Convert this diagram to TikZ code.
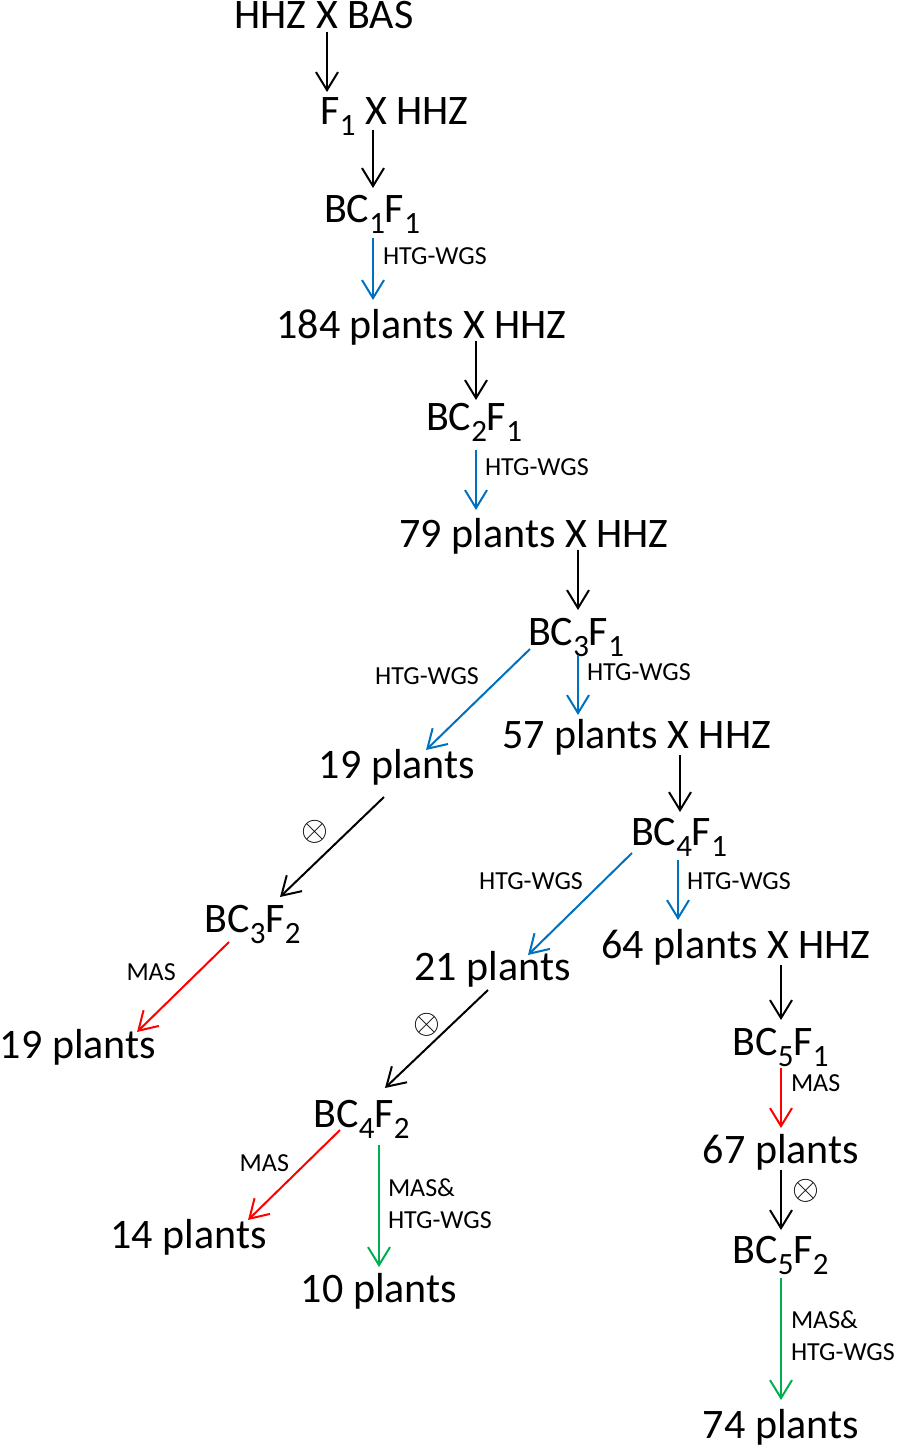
\documentclass[tikz,border=0pt]{standalone}
\usepackage{fontspec}
\setmainfont{Carlito}
\usetikzlibrary{arrows.meta}
\definecolor{htgblue}{RGB}{0,112,192}
\definecolor{masred}{RGB}{255,0,0}
\definecolor{bothgreen}{RGB}{0,176,80}
\newcommand{\subsc}[1]{\raisebox{-5.5pt}{\fontsize{15.5}{16}\selectfont #1}}

\begin{document}
\begin{tikzpicture}[x=0.5pt, y=-0.5pt,
    plant/.style={font=\fontsize{21}{25}\selectfont, anchor=base, inner sep=0pt, outer sep=0pt},
    lab/.style={font=\fontsize{13}{16}\selectfont, text=black, inner sep=0pt, align=left},
    selfing/.style={font=\fontsize{19}{19}\selectfont, text=black, inner sep=0pt},
    arr/.style={line width=1pt, -{Straight Barb[length=9pt,width=11pt]}}]
    \useasboundingbox (0,0) rectangle (896,1446);
    \node[plant] (cross) at (324,28) {HHZ X BAS};
    \node[plant] (fone) at (394.5,124) {F\subsc{1} X HHZ};
    \node[plant] (bc1f1) at (372,222) {BC\subsc{1}F\subsc{1}};
    \node[plant] (p184) at (421.5,338) {184 plants X HHZ};
    \node[plant] (bc2f1) at (474,430) {BC\subsc{2}F\subsc{1}};
    \node[plant] (p79) at (534,547) {79 plants X HHZ};
    \node[plant] (bc3f1) at (576,645) {BC\subsc{3}F\subsc{1}};
    \node[plant] (p19a) at (397,778) {19 plants};
    \node[plant] (p57) at (636.5,748) {57 plants X HHZ};
    \node[plant] (bc4f1) at (679,845) {BC\subsc{4}F\subsc{1}};
    \node[plant] (bc3f2) at (252.5,932) {BC\subsc{3}F\subsc{2}};
    \node[plant] (p21) at (492.5,980) {21 plants};
    \node[plant] (p64) at (736,958) {64 plants X HHZ};
    \node[plant] (p19b) at (78,1058) {19 plants};
    \node[plant] (bc5f1) at (780.5,1055) {BC\subsc{5}F\subsc{1}};
    \node[plant] (bc4f2) at (361.5,1127) {BC\subsc{4}F\subsc{2}};
    \node[plant] (p67) at (781,1163) {67 plants};
    \node[plant] (p14) at (188.5,1248) {14 plants};
    \node[plant] (p10) at (379,1302) {10 plants};
    \node[plant] (bc5f2) at (780.5,1263) {BC\subsc{5}F\subsc{2}};
    \node[plant] (p74) at (781,1438) {74 plants};

    \draw[arr] ([shift={(3,4)}]cross.base) -- ([shift={(-67.5,-32)}]fone.base);
    \draw[arr] ([shift={(-21.5,6)}]fone.base) -- ([shift={(1,-34)}]bc1f1.base);
    \draw[arr, htgblue] ([shift={(1,16)}]bc1f1.base) -- ([shift={(-48.5,-38)}]p184.base) node[lab, pos=0.3, right=4.5pt] {HTG-WGS};
    \draw[arr] ([shift={(54.5,3)}]p184.base) -- ([shift={(2,-30)}]bc2f1.base);
    \draw[arr, htgblue] ([shift={(2,20)}]bc2f1.base) -- ([shift={(-58,-37)}]p79.base) node[lab, pos=0.28, right=4pt] {HTG-WGS};
    \draw[arr] ([shift={(44,3)}]p79.base) -- ([shift={(2,-35)}]bc3f1.base);
    \draw[arr, htgblue] ([shift={(-46,4)}]bc3f1.base) -- ([shift={(29,-28)}]p19a.base) node[lab, pos=0.27, left=11pt] {HTG-WGS};
    \draw[arr, htgblue] ([shift={(2,10)}]bc3f1.base) -- ([shift={(-58.5,-33)}]p57.base) node[lab, pos=0.28, right=4pt] {HTG-WGS};
    \draw[arr] ([shift={(43.5,7)}]p57.base) -- ([shift={(1,-33)}]bc4f1.base);
    \draw[arr] ([shift={(-13,19)}]p19a.base) -- ([shift={(27.5,-35)}]bc3f2.base) node[selfing, pos=0.35, left=9pt] {$\otimes$};
    \draw[arr, masred] ([shift={(-23.5,10)}]bc3f2.base) -- ([shift={(59,-26)}]p19b.base) node[lab, pos=0.34, left=10.5pt] {MAS};
    \draw[arr, htgblue] ([shift={(-47,8)}]bc4f1.base) -- ([shift={(35.5,-25)}]p21.base) node[lab, pos=0.28, left=9.5pt] {HTG-WGS};
    \draw[arr, htgblue] ([shift={(-1,15)}]bc4f1.base) -- ([shift={(-58,-38)}]p64.base) node[lab, pos=0.35, right=4pt] {HTG-WGS};
    \draw[arr] ([shift={(45,7)}]p64.base) -- ([shift={(0.5,-35)}]bc5f1.base);
    \draw[arr] ([shift={(-4.5,10)}]p21.base) -- ([shift={(23.5,-39)}]bc4f2.base) node[selfing, pos=0.36, left=5pt] {$\otimes$};
    \draw[arr, masred] ([shift={(0.5,13)}]bc5f1.base) -- ([shift={(0,-35)}]p67.base) node[lab, pos=0.25, right=4.5pt] {MAS};
    \draw[arr, masred] ([shift={(-21.5,3)}]bc4f2.base) -- ([shift={(59.5,-28)}]p14.base) node[lab, pos=0.37, left=8pt] {MAS};
    \draw[arr, bothgreen] ([shift={(17.5,18)}]bc4f2.base) -- ([shift={(0,-35)}]p10.base) node[lab, pos=0.48, right=4pt] {MAS\&\\HTG-WGS};
    \draw[arr] ([shift={(0,7)}]p67.base) -- ([shift={(0.5,-33)}]bc5f2.base) node[selfing, pos=0.35, right=5pt] {$\otimes$};
    \draw[arr, bothgreen] ([shift={(0.5,15)}]bc5f2.base) -- ([shift={(0,-38)}]p74.base) node[lab, pos=0.47, right=4.5pt] {MAS\&\\HTG-WGS};
\end{tikzpicture}
\end{document}
